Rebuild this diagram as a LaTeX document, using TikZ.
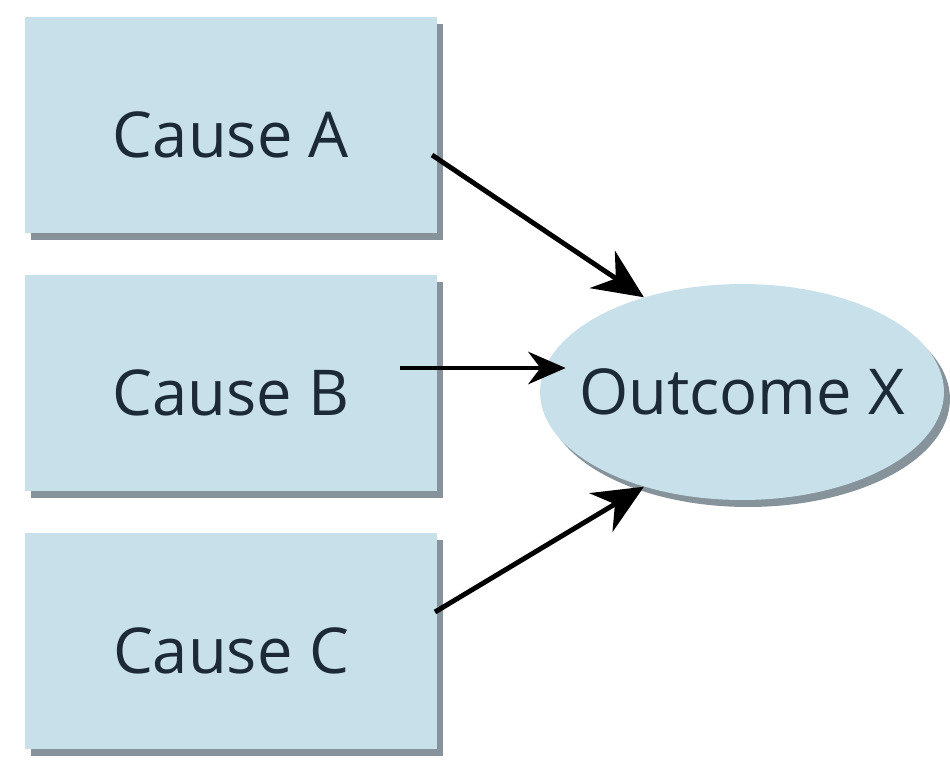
\documentclass[tikz,border=0pt]{standalone}
\usepackage{fontspec}
\setmainfont{Open Sans}
\usetikzlibrary{arrows.meta,positioning,shapes.geometric,shadows}
\definecolor{boxblue}{RGB}{200,224,234}
\definecolor{shadowgray}{RGB}{105,120,130}
\definecolor{inkblue}{RGB}{28,42,56}

\begin{document}
\begin{tikzpicture}[
  x=0.02cm, y=-0.02cm,
  cause/.style={rectangle, fill=boxblue, minimum width=8.24cm, minimum height=4.32cm,
    inner sep=0pt, text height=1.3cm, text depth=0pt, text=inkblue,
    font=\fontsize{36}{40}\selectfont,
    drop shadow={shadow xshift=1.2mm, shadow yshift=-1.4mm, fill=shadowgray, opacity=0.8}},
  result/.style={ellipse, fill=boxblue, minimum width=8.08cm, minimum height=4.32cm,
    inner sep=0pt, text=inkblue, font=\fontsize{36}{40}\selectfont,
    drop shadow={shadow xshift=1.2mm, shadow yshift=-1.4mm, fill=shadowgray, opacity=0.8}},
  arrow/.style={-{Stealth[length=1cm,width=9mm]}, line width=2.8pt},
  thinarrow/.style={-{Stealth[length=7.5mm,width=6.5mm]}, line width=2pt}
]
\useasboundingbox (0,0) rectangle (950,765);
\node[cause] (causeA) at (231,125) {Cause A};
\node[cause] (causeB) at (231,383) {Cause B};
\node[cause] (causeC) at (231,641) {Cause C};
\node[result] (outX) at (742,392) {\makebox[0pt]{Outcome X}};
% arrow tails sit just past the labels
\coordinate (fromA) at (432,155);
\coordinate (fromB) at (400,368);
\coordinate (fromC) at (435,612);
\draw[arrow] (fromA) -- (outX.136);
\draw[thinarrow, shorten >=-0.52cm] (fromB) -- (fromB -| outX.west);
\draw[arrow] (fromC) -- (outX.224);
\end{tikzpicture}
\end{document}
